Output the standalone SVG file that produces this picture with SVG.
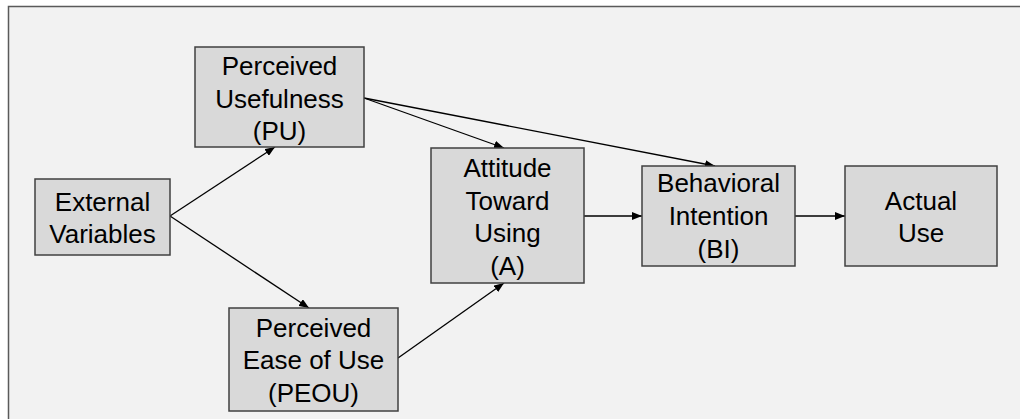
<svg xmlns="http://www.w3.org/2000/svg" width="1020" height="419" viewBox="0 0 1020 419">
<style>
.box{fill:#d9d9d9;stroke:#404040;stroke-width:1.5}
.t{font-family:"Liberation Sans",Arial,sans-serif;font-size:26px;fill:#000;text-anchor:middle}
.c{stroke:#000;stroke-width:1.3;fill:none;marker-end:url(#ah)}
</style>
<defs>
<marker id="ah" viewBox="0 0 10 8" refX="10" refY="4" markerWidth="10" markerHeight="8" markerUnits="userSpaceOnUse" orient="auto">
<path d="M0,0 L10,4 L0,8 Z" fill="#000"/>
</marker>
</defs>
<rect x="0" y="0" width="1020" height="419" fill="#ffffff"/>
<rect x="8.5" y="6.5" width="1030" height="430" fill="#f2f2f2" stroke="#5a5a5a" stroke-width="1.5"/>
<g id="connectors">
<line class="c" x1="170" y1="216" x2="275" y2="147"/>
<line class="c" x1="170" y1="216" x2="309" y2="308"/>
<line class="c" x1="364" y1="98" x2="504" y2="148"/>
<line class="c" x1="364" y1="98" x2="715" y2="166"/>
<line class="c" x1="398" y1="358" x2="504" y2="283"/>
<line class="c" x1="584" y1="216" x2="642" y2="216"/>
<line class="c" x1="795" y1="216" x2="845" y2="216"/>
</g>
<g id="external">
<rect class="box" x="35" y="179" width="135" height="76"/>
<text class="t" x="102.5" y="210.5">External</text>
<text class="t" x="102.5" y="243">Variables</text>
</g>
<g id="pu">
<rect class="box" x="195" y="47" width="169" height="100"/>
<text class="t" x="279.5" y="75">Perceived</text>
<text class="t" x="279.5" y="107.5">Usefulness</text>
<text class="t" x="279.5" y="140">(PU)</text>
</g>
<g id="peou">
<rect class="box" x="229" y="308" width="169" height="103"/>
<text class="t" x="313.5" y="336.5">Perceived</text>
<text class="t" x="313.5" y="369">Ease of Use</text>
<text class="t" x="313.5" y="401.5">(PEOU)</text>
</g>
<g id="attitude">
<rect class="box" x="431" y="148" width="153" height="135"/>
<text class="t" x="507.5" y="177">Attitude</text>
<text class="t" x="507.5" y="209.5">Toward</text>
<text class="t" x="507.5" y="242">Using</text>
<text class="t" x="507.5" y="274.5">(A)</text>
</g>
<g id="bi">
<rect class="box" x="642" y="166" width="153" height="100"/>
<text class="t" x="718.5" y="192">Behavioral</text>
<text class="t" x="718.5" y="225">Intention</text>
<text class="t" x="718.5" y="258">(BI)</text>
</g>
<g id="actual">
<rect class="box" x="845" y="166" width="152" height="100"/>
<text class="t" x="921" y="209.5">Actual</text>
<text class="t" x="921" y="242">Use</text>
</g>
</svg>
